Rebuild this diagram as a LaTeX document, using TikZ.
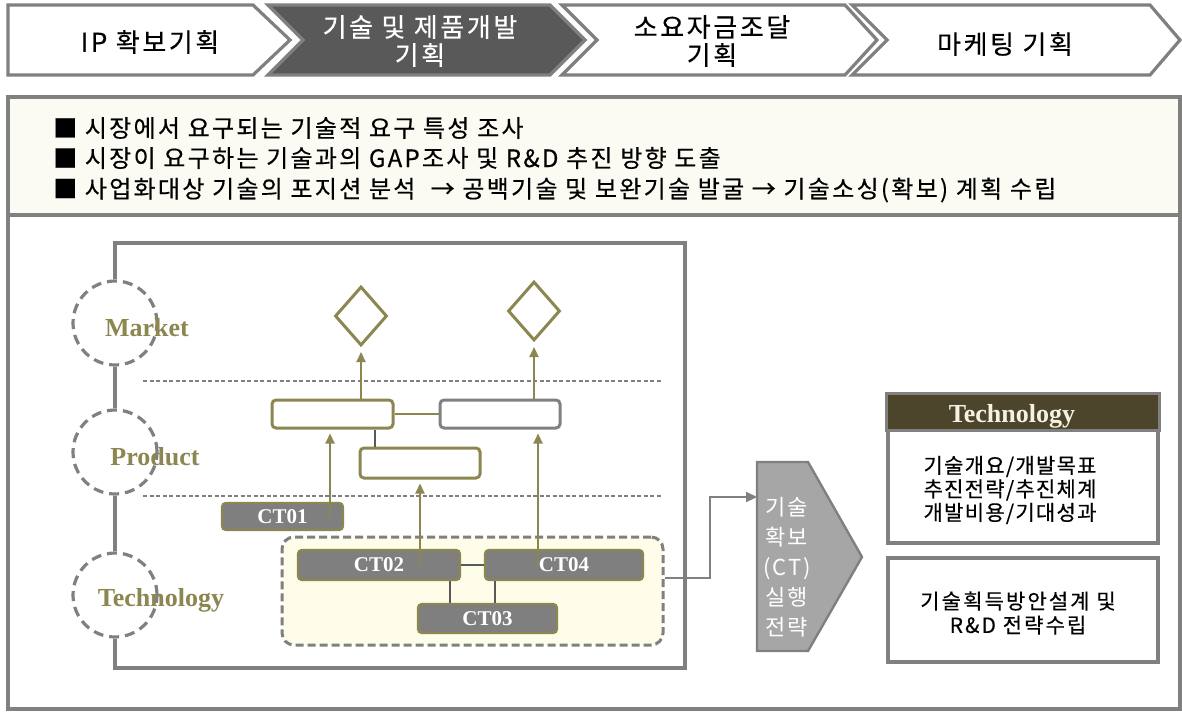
\documentclass[tikz,border=0pt]{standalone}
\usepackage{fontspec}
\setmainfont{Liberation Serif}
\newfontfamily\krTop[LetterSpace=10,FakeBold=0.4]{Noto Sans CJK KR}
\newfontfamily\krBody[LetterSpace=9.5,FakeBold=0.4]{Noto Sans CJK KR}
\newfontfamily\krBoxA[LetterSpace=6,FakeBold=0.4]{Noto Sans CJK KR}
\newfontfamily\krBoxB[LetterSpace=10,FakeBold=0.4]{Noto Sans CJK KR}
\newfontfamily\krPent[LetterSpace=8]{Noto Sans CJK KR}
\usetikzlibrary{arrows.meta,shapes.geometric}
\definecolor{gline}{RGB}{128,128,128}
\definecolor{darkchev}{RGB}{89,89,89}
\definecolor{olivec}{RGB}{140,134,80}
\definecolor{ctfill}{RGB}{127,127,127}
\definecolor{creamA}{RGB}{251,251,244}
\definecolor{creamB}{RGB}{253,253,234}
\definecolor{hdr}{RGB}{77,68,44}
\definecolor{pentfill}{RGB}{166,166,166}
\definecolor{hdrtext}{RGB}{245,242,225}
\begin{document}
\begin{tikzpicture}[x=1pt,y=-1pt,
  chev/.style={draw=gline,line width=3.2pt,fill=white,line join=miter},
  chevtxt/.style={inner sep=0pt,align=center,font=\krTop\fontsize{26}{28}\selectfont},
  hline/.style={anchor=west,inner sep=0pt,font=\krBody\fontsize{24}{26}\selectfont},
  frame/.style={draw=gline,line width=3.2pt},
  dcirc/.style={circle,draw=gline,line width=3.2pt,dash pattern=on 10pt off 6pt,minimum size=84pt,inner sep=0pt},
  lvl/.style={inner sep=0pt,text=olivec,font=\fontsize{26}{28}\selectfont\bfseries},
  sep/.style={draw=gline,line width=1.3pt,dash pattern=on 4pt off 2.5pt},
  dia/.style={diamond,draw=olivec,line width=3pt,minimum width=52pt,minimum height=59pt,inner sep=0pt,aspect=0.88},
  pbox/.style={rounded corners=4pt,draw=olivec,line width=3pt,fill=white,inner sep=0pt},
  ctbox/.style={rounded corners=4pt,draw=olivec,line width=2.4pt,fill=ctfill,inner sep=0pt,text=white,font=\fontsize{21}{22}\selectfont\bfseries},
  oarr/.style={draw=olivec,line width=2.2pt,-{Triangle[width=9pt,length=10pt]}},
  thin/.style={draw=darkchev,line width=1.3pt},
  grp/.style={rounded corners=12pt,draw=gline,line width=3pt,dash pattern=on 8pt off 4pt,fill=creamB,minimum width=381pt,minimum height=108pt,inner sep=0pt},
  garr/.style={draw=gline,line width=2.2pt,-{Triangle[width=10pt,length=11pt]}},
  rbox/.style={draw=gline,line width=3.2pt,fill=white,inner sep=0pt},
  rtxt/.style={inner sep=0pt,align=center,font=\krBoxA\fontsize{21}{23.5}\selectfont}
]
\useasboundingbox (0,0) rectangle (1182,712);

% top process chevrons
\draw[chev] (8,5) -- (253,5) -- (290,40) -- (253,75) -- (8,75) -- cycle;
\draw[chev,fill=darkchev] (268,5) -- (550,5) -- (585,40) -- (550,75) -- (268,75) -- (303,40) -- cycle;
\draw[chev] (562,5) -- (845,5) -- (877,40) -- (845,75) -- (562,75) -- (597,40) -- cycle;
\draw[chev] (852,5) -- (1150,5) -- (1180,40) -- (1150,75) -- (852,75) -- (887,40) -- cycle;
\node[chevtxt] (c1) at (150,42) {IP 확보기획};
\node[chevtxt,text=white] (c2) at (420,41) {기술 및 제품개발\\기획};
\node[chevtxt] (c3) at (712,41) {소요자금조달\\기획};
\node[chevtxt] (c4) at (1005,44) {마케팅 기획};

% main panel
\draw[frame,fill=white] (8,97) rectangle (1180,709);
\draw[frame,fill=creamA] (8,97) rectangle (1180,215);
\node[hline] (l1) at (53,128) {■ 시장에서 요구되는 기술적 요구 특성 조사};
\node[hline] (l2) at (53,158) {■ 시장이 요구하는 기술과의 GAP조사 및 R\&D 추진 방향 도출};
\node[hline] (l3) at (53,190) {■ 사업화대상 기술의 포지션 분석\ \ → 공백기술 및 보완기술 발굴 → 기술소싱(확보) 계획 수립};

% inner diagram frame and level circles
\coordinate (itl) at (115,243);
\coordinate (itr) at (685,243);
\coordinate (ibr) at (685,668);
\coordinate (ibl) at (115,668);
\node[dcirc] (mkt) at (115,323) {};
\node[dcirc] (prd) at (115,452) {};
\node[dcirc] (tec) at (115,595) {};
\draw[frame] (mkt.north) -- (itl) -- (itr) -- (ibr) -- (ibl) -- (tec.south);
\draw[frame] (mkt.south) -- (prd.north);
\draw[frame] (prd.south) -- (tec.north);
\node[lvl] (mktl) at (147,328) {Market};
\node[lvl] (prdl) at (155,457) {Product};
\node[lvl] (tecl) at (161,600) {Technology};

% separators
\coordinate (s1a) at (143,381);
\coordinate (s1b) at (662,381);
\coordinate (s2a) at (143,496);
\coordinate (s2b) at (662,496);
\draw[sep] (s1a) -- (s1b);
\draw[sep] (s2a) -- (s2b);

% market diamonds and product boxes
\node[dia] (d1) at (361,316) {};
\node[dia] (d2) at (534,311) {};
\node[pbox,minimum width=121pt,minimum height=28pt] (p1) at (332.5,414) {};
\node[pbox,draw=gline,minimum width=120pt,minimum height=28pt] (p2) at (500,414) {};
\node[pbox,minimum width=120pt,minimum height=30pt] (p3) at (420,463) {};
\draw[olivec,line width=1.6pt] (p1.east) -- (p2.west);
\draw[thin] ([xshift=42.5pt]p1.south) -- ([xshift=42.5pt]p1.south |- p3.north);
\draw[oarr,shorten >=5pt] (d1 |- p1.north) -- (d1.south);
\draw[oarr,shorten >=5pt] (d2 |- p2.north) -- (d2.south);

% technology group
\node[grp] (grp) at (472.5,591) {};
\node[ctbox,minimum width=121pt,minimum height=27pt] (ct01) at (282.5,516.5) {CT01};
\node[ctbox,minimum width=162pt,minimum height=30pt] (ct02) at (379,565) {CT02};
\node[ctbox,minimum width=158pt,minimum height=30pt] (ct04) at (564,565) {CT04};
\node[ctbox,minimum width=139pt,minimum height=29pt] (ct03) at (487.5,618.5) {CT03};
\draw[thin] (ct02.east) -- (ct04.west);
\draw[thin] ([xshift=71pt]ct02.south) -- ([xshift=71pt]ct02.south |- ct03.north);
\draw[thin] ([xshift=-69pt]ct04.south) -- ([xshift=-69pt]ct04.south |- ct03.north);
\draw[oarr,shorten >=4pt] ([xshift=47.5pt]ct01.center) -- ([xshift=47.5pt]ct01.center |- p1.south);
\draw[oarr,shorten >=4pt] ([xshift=41pt]ct02.center) -- ([xshift=41pt]ct02.center |- p3.south);
\draw[oarr,shorten >=4pt] ([xshift=-26pt]ct04.center) -- ([xshift=-26pt]ct04.center |- p2.south);

% strategy arrow
\coordinate (bend) at (710,497);
\coordinate (pin) at (757,497);
\draw[garr] ([yshift=13pt]grp.east) -| (bend) -- (pin);
\draw[draw=gline,fill=pentfill,line width=2.4pt] (757,462) -- (808,462) -- (862,557) -- (808,651) -- (757,651) -- cycle;
\node[inner sep=0pt,align=center,text=white,font=\krPent\fontsize{22}{30}\selectfont] (ctl) at (787,567) {기술\\확보\\(CT)\\실행\\전략};

% right boxes
\node[rbox,minimum width=270pt,minimum height=148pt] (rb1) at (1023,469) {};
\draw[draw=gline,line width=3.2pt,fill=hdr] (rb1.north west) rectangle ([yshift=-37pt]rb1.north east);
\node[inner sep=0pt,text=hdrtext,font=\fontsize{26}{28}\selectfont\bfseries] (rh) at (1012,416) {Technology};
\node[rtxt] (rt1) at (1010,490) {기술개요/개발목표\\추진전략/추진체계\\개발비용/기대성과};
\node[rbox,minimum width=270pt,minimum height=104pt] (rb2) at (1023,610) {};
\node[rtxt,font=\krBoxB\fontsize{21}{24}\selectfont] (rt2) at (1018,613) {기술획득방안설계 및\\R\&D 전략수립};
\end{tikzpicture}
\end{document}
